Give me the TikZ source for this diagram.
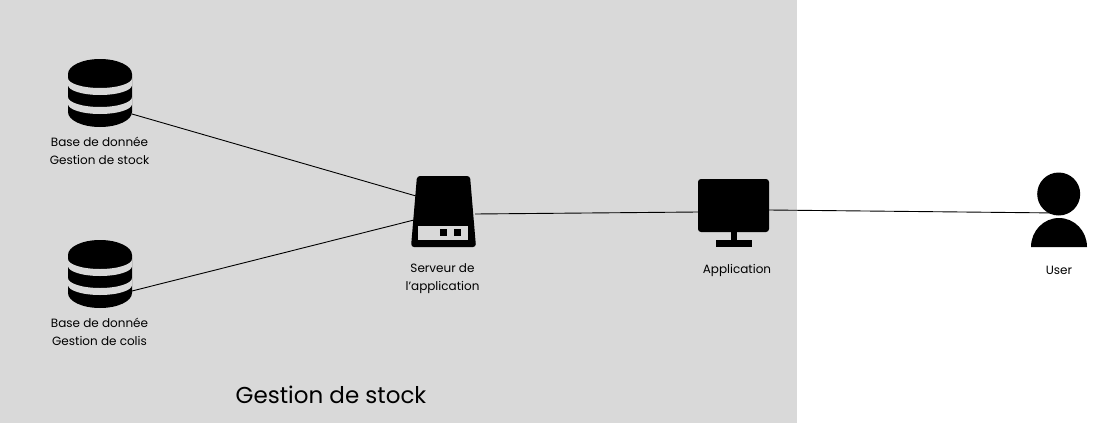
\documentclass[tikz,border=0pt]{standalone}
\usepackage{fontspec}
\setmainfont{Poppins}
\definecolor{zone}{HTML}{D9D9D9}
\tikzset{
  label/.style={font=\fontsize{12}{18}\selectfont, align=center, inner sep=0pt},
  slot/.style={minimum width=#1, inner sep=0pt, outer sep=0pt},
  link/.style={draw=black, line width=0.9pt},
}
\newcommand{\dbicon}[1]{
  \begin{scope}[shift={(#1)}]
    \fill (-32,-19) arc (180:360:32 and 15) -- (32,19) arc (0:180:32 and 15) -- cycle;
    \fill [zone] (-32,-15) arc (180:0:32 and 10) -- (32,-8) arc (0:180:32 and 10) -- cycle;
    \fill [zone] (-32,4) arc (180:0:32 and 10) -- (32,11) arc (0:180:32 and 10) -- cycle;
  \end{scope}
}
\begin{document}
\begin{tikzpicture}[x=1pt, y=-1pt]
\useasboundingbox (0,0) rectangle (1102,423);
\fill [zone] (0,0) rectangle (797,423);

\node (dbStock) [slot=64, minimum height=68] at (100,93) {};
\node (dbColis) [slot=64, minimum height=68] at (100,274) {};
\node (server) [slot=62, minimum height=71] at (444,211.5) {};
\node (screen) [slot=71, minimum height=53] at (733.5,205.5) {};
\node (head) [circle, minimum size=43, inner sep=0pt, outer sep=0pt] at (1058.7,194) {};

\draw [link] ([yshift=-21]dbStock.east) -- ([xshift=3,yshift=15.5]server.west);
\draw [link] ([yshift=-17]dbColis.east) -- ([xshift=1,yshift=-8.5]server.west);
\draw [link] ([yshift=-2.5]server.east) -- ([yshift=-6.5]screen.west);
\draw [link] ([yshift=-4.5]screen.east) -- ([yshift=-19]head.center);

\dbicon{100,93}
\dbicon{100,274}

% server
\fill [rounded corners=3pt] (417,176) -- (470,176) -- (476,247) -- (411,247) -- cycle;
\fill [zone] (418,226) rectangle (468,240);
\fill (440,229) rectangle (447,236);
\fill (454,229) rectangle (461,236);

% screen
\fill [rounded corners=3pt] (698,179) rectangle (769,232);
\fill (731,232) rectangle (737,240);
\fill (716,240) rectangle (752,247);

% user
\fill (head) circle (21.5);
\fill (1031,247) arc (180:360:28 and 29) -- cycle;

\node [label] at (99.5,151) {Base de donnée\\Gestion de stock};
\node [label] at (99.5,332) {Base de donnée\\Gestion de colis};
\node [label] at (442.5,279) {Serveur de\\l’application};
\node [label] at (737,270) {Application};
\node [label] at (1059,270) {User};
\node [font=\fontsize{23}{26}\selectfont, inner sep=0pt] at (331,395) {Gestion de stock};
\end{tikzpicture}
\end{document}
